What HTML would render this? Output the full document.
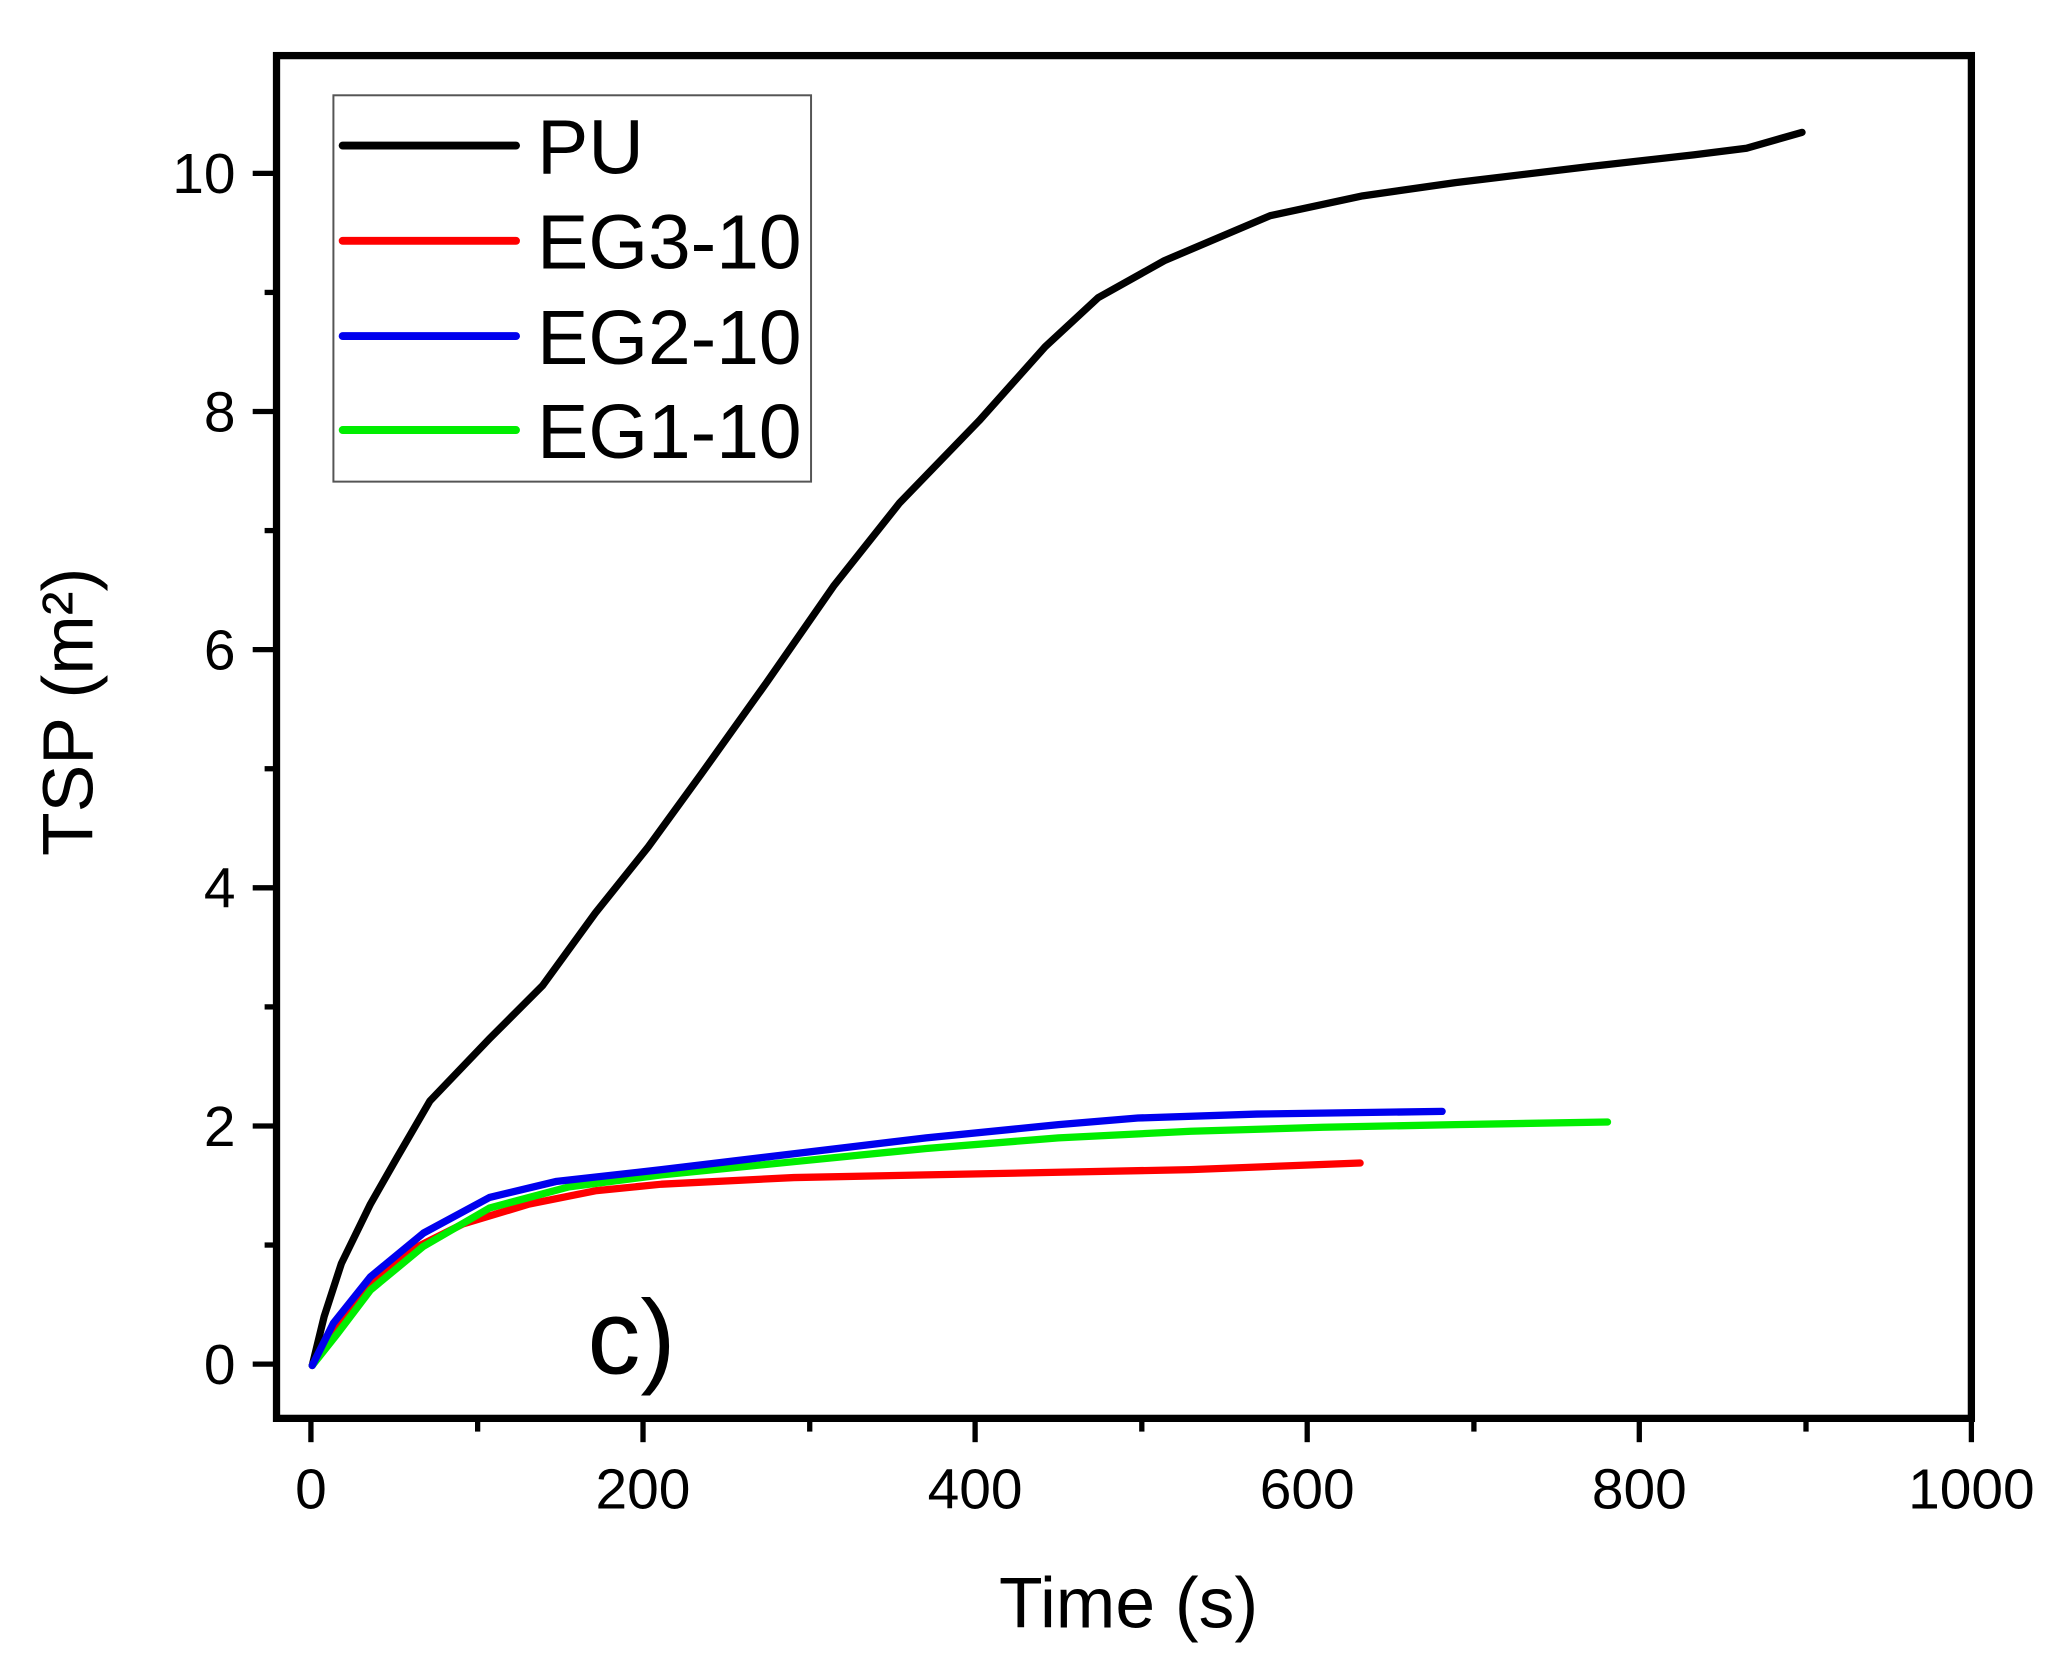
<!DOCTYPE html>
<html><head><meta charset="utf-8"><style>html,body{margin:0;padding:0;background:#fff}svg{display:block}</style></head>
<body>
<svg width="2064" height="1676" viewBox="0 0 1560 1266.7" xmlns="http://www.w3.org/2000/svg" font-family="Liberation Sans, Arial, sans-serif">
<rect width="1560" height="1267" fill="#fff"/>
<rect x="209" y="42" width="1281" height="1030" fill="none" stroke="#000" stroke-width="5.5"/>
<g stroke="#000" stroke-width="4">
<line x1="235" y1="1072" x2="235" y2="1090"/><line x1="361" y1="1072" x2="361" y2="1082"/>
<line x1="486" y1="1072" x2="486" y2="1090"/><line x1="612" y1="1072" x2="612" y2="1082"/>
<line x1="737" y1="1072" x2="737" y2="1090"/><line x1="863" y1="1072" x2="863" y2="1082"/>
<line x1="988" y1="1072" x2="988" y2="1090"/><line x1="1114" y1="1072" x2="1114" y2="1082"/>
<line x1="1239" y1="1072" x2="1239" y2="1090"/><line x1="1365" y1="1072" x2="1365" y2="1082"/>
<line x1="1490" y1="1072" x2="1490" y2="1090"/>
<line x1="191" y1="1031" x2="209" y2="1031"/><line x1="200" y1="941" x2="209" y2="941"/>
<line x1="191" y1="851" x2="209" y2="851"/><line x1="200" y1="761" x2="209" y2="761"/>
<line x1="191" y1="671" x2="209" y2="671"/><line x1="200" y1="581" x2="209" y2="581"/>
<line x1="191" y1="491" x2="209" y2="491"/><line x1="200" y1="401" x2="209" y2="401"/>
<line x1="191" y1="311" x2="209" y2="311"/><line x1="200" y1="221" x2="209" y2="221"/>
<line x1="191" y1="131" x2="209" y2="131"/>
</g>
<g font-size="43" text-anchor="middle" fill="#000">
<text x="235" y="1140">0</text><text x="486" y="1140">200</text><text x="737" y="1140">400</text>
<text x="988" y="1140">600</text><text x="1239" y="1140">800</text><text x="1490" y="1140">1000</text>
</g>
<g font-size="43" text-anchor="end" fill="#000">
<text x="178" y="1046">0</text><text x="178" y="866">2</text><text x="178" y="686">4</text>
<text x="178" y="506">6</text><text x="178" y="326">8</text><text x="178" y="146">10</text>
</g>
<text x="853" y="1230" font-size="54" text-anchor="middle">Time (s)</text>
<text transform="translate(70,538) rotate(-90)" font-size="54" text-anchor="middle">TSP (m²)</text>
<text x="444" y="1038" font-size="80">c)</text>
<g fill="none" stroke-width="5.5" stroke-linejoin="round" stroke-linecap="round">
<polyline stroke="#000" points="236,1032 245,995 258,955 280,910 300,875 325,832 370,785 410,745 450,690 490,640 530,585 580,515 630,443 680,380 740,318 790,262 830,225 880,197 960,163 1030,148 1100,138 1200,126 1280,117 1320,112 1362,100"/>
<polyline stroke="#ff0000" points="236,1032 250,1008 275,975 310,945 350,925 400,910 450,900 500,895 600,890 700,888 800,886 900,884 1028,879"/>
<polyline stroke="#00ee00" points="236,1032 255,1008 280,975 320,942 370,913 430,897 500,888 600,878 700,868 800,860 900,855 1000,852 1100,850 1215,848"/>
<polyline stroke="#0000ee" points="236,1032 252,1000 280,965 320,932 370,905 420,893 500,884 600,872 700,860 800,850 860,845 950,842 1090,840"/>
</g>
<rect x="252" y="72" width="361" height="292" fill="#fff" stroke="#555" stroke-width="1.5"/>
<g stroke-width="6" stroke-linecap="round">
<line x1="259" y1="110" x2="390" y2="110" stroke="#000"/>
<line x1="259" y1="182" x2="390" y2="182" stroke="#ff0000"/>
<line x1="259" y1="254" x2="390" y2="254" stroke="#0000ee"/>
<line x1="259" y1="325" x2="390" y2="325" stroke="#00ee00"/>
</g>
<g font-size="58" fill="#000">
<text x="406" y="131">PU</text><text x="406" y="203">EG3-10</text>
<text x="406" y="275">EG2-10</text><text x="406" y="346">EG1-10</text>
</g>
</svg>
</body></html>
